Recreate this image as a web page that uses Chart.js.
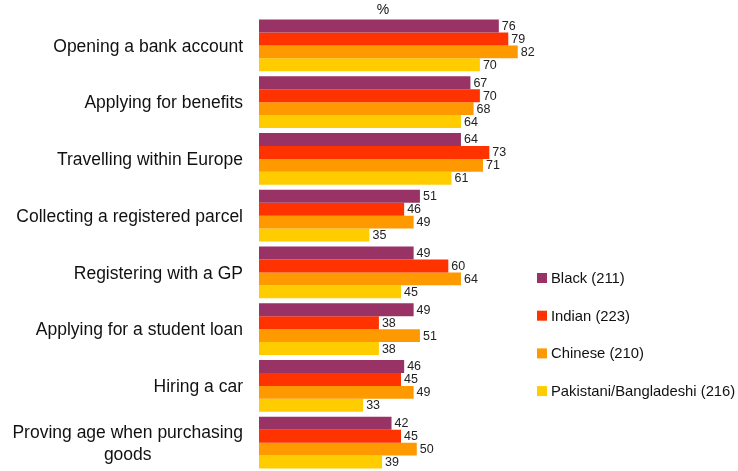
<!DOCTYPE html>
<html>
<head>
<meta charset="utf-8">
<script src="https://cdn.jsdelivr.net/npm/chart.js@4"></script>
<style>
  html, body { margin: 0; padding: 0; background: #fff; }
  #wrap { width: 738px; height: 471px; }
</style>
</head>
<body>
<div id="wrap"><canvas id="chart"></canvas></div>
<script>
// Data
const categories = [
  'Opening a bank account',
  'Applying for benefits',
  'Travelling within Europe',
  'Collecting a registered parcel',
  'Registering with a GP',
  'Applying for a student loan',
  'Hiring a car',
  ['Proving age when purchasing', 'goods']
];
const seriesNames = ['Black (211)', 'Indian (223)', 'Chinese (210)', 'Pakistani/Bangladeshi (216)'];
const black = [76, 67, 64, 51, 49, 49, 46, 42];
const indian = [79, 70, 73, 46, 60, 38, 45, 45];
const chinese = [82, 68, 71, 49, 64, 51, 49, 50];
const pakistani = [70, 64, 61, 35, 45, 38, 33, 39];
const colors = ['#993366', '#ff3300', '#ff9900', '#ffcc00'];

const FONT = 'Liberation Sans, Arial, sans-serif';

// value labels at the end of each bar
const valueLabels = {
  id: 'valueLabels',
  afterDatasetsDraw(chart) {
    const ctx = chart.ctx;
    ctx.save();
    ctx.font = '12.5px ' + FONT;
    ctx.fillStyle = '#222';
    ctx.textAlign = 'left';
    ctx.textBaseline = 'middle';
    chart.data.datasets.forEach((ds, i) => {
      chart.getDatasetMeta(i).data.forEach((bar, j) => {
        ctx.fillText(ds.data[j], bar.x + 3, bar.y + 0.5);
      });
    });
    ctx.restore();
  }
};

// category labels, multi-line ones centred on their widest line
const categoryLabels = {
  id: 'categoryLabels',
  afterDraw(chart) {
    const ctx = chart.ctx;
    const y = chart.scales.y;
    const right = 243;
    const lh = 22;
    ctx.save();
    ctx.font = '17.5px ' + FONT;
    ctx.fillStyle = '#111';
    ctx.textBaseline = 'middle';
    categories.forEach((c, i) => {
      const cy = y.getPixelForTick(i) + 1.5;
      if (Array.isArray(c)) {
        const w = Math.max(...c.map(s => ctx.measureText(s).width));
        ctx.textAlign = 'center';
        c.forEach((s, k) => {
          ctx.fillText(s, right - w / 2, cy + (k - (c.length - 1) / 2) * lh);
        });
      } else {
        ctx.textAlign = 'right';
        ctx.fillText(c, right, cy);
      }
    });
    ctx.restore();
  }
};

// legend and unit label
const sideLegend = {
  id: 'sideLegend',
  afterDraw(chart) {
    const ctx = chart.ctx;
    ctx.save();
    ctx.font = '14.8px ' + FONT;
    ctx.textBaseline = 'middle';
    ctx.textAlign = 'left';
    chart.data.datasets.forEach((ds, i) => {
      const cy = 278 + i * 37.7;
      ctx.fillStyle = ds.backgroundColor;
      ctx.fillRect(537, cy - 5, 10, 10);
      ctx.fillStyle = '#111';
      ctx.fillText(ds.label, 551, cy + 1);
    });
    ctx.textAlign = 'center';
    ctx.font = '14px ' + FONT;
    ctx.fillText('%', 383, 10);
    ctx.restore();
  }
};

const data = {
  labels: categories,
  datasets: [black, indian, chinese, pakistani].map((d, i) => ({
    label: seriesNames[i],
    data: d,
    backgroundColor: colors[i],
    borderWidth: 0,
    barPercentage: 1.0,
    categoryPercentage: 0.916
  }))
};

const options = {
  indexAxis: 'y',
  responsive: true,
  maintainAspectRatio: false,
  animation: false,
  layout: { padding: { top: 17, right: 195, bottom: 0, left: 0 } },
  plugins: {
    legend: { display: false },
    tooltip: { enabled: false }
  },
  scales: {
    x: {
      display: false,
      min: 0,
      max: 90
    },
    y: {
      grid: { display: false },
      border: { display: false },
      ticks: { display: false },
      afterFit(scale) { scale.width = 259; }
    }
  }
};

const chart = new Chart(document.getElementById('chart'), {
  type: 'bar',
  data: data,
  options: options,
  plugins: [valueLabels, categoryLabels, sideLegend]
});
</script>
</body>
</html>
